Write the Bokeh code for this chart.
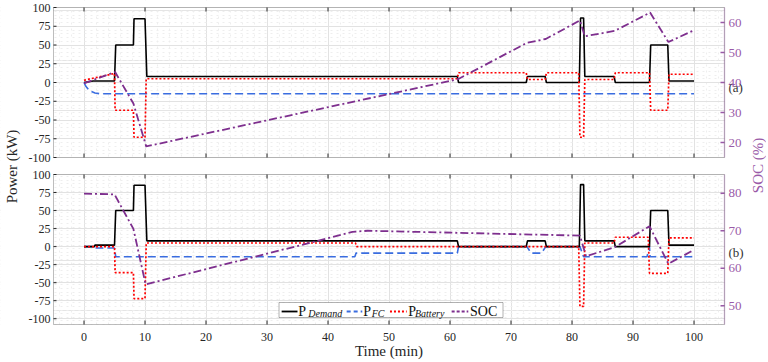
from bokeh.plotting import figure
from bokeh.models import Range1d, FixedTicker, Grid, BoxAnnotation, Label, Arrow
from bokeh.core.properties import value
from bokeh.embed import file_html
from bokeh.resources import INLINE

# ---------------- data ----------------
# panel (a)
t_dem_a = [0, 1.5, 5.0, 5.2, 8.1, 8.2, 10.0, 10.3, 61.2, 61.4, 72.5, 72.7, 75.6, 75.8,
           81.2, 81.4, 81.9, 82.1, 86.9, 87.1, 92.7, 92.9, 95.7, 95.9, 100]
p_dem_a = [0, 2, 2, 50, 50, 85, 85, 8, 8, 0, 0, 8, 8, 0,
           0, 86, 86, 8, 8, 0, 0, 50, 50, 2, 2]
t_fc_a = [0, 0.3, 0.7, 1.2, 1.8, 2.6, 100]
p_fc_a = [0, -5, -9, -12, -14, -15, -15]
t_bat_a = [0, 5.0, 5.1, 8.1, 8.2, 10.0, 10.2, 61.2, 61.4, 72.5, 72.7, 75.6, 75.8,
           81.1, 81.3, 81.9, 82.1, 86.9, 87.1, 92.7, 92.9, 95.7, 95.9, 100]
p_bat_a = [3, 12, -37, -37, -73, -73, 5, 5, 13, 13, 4, 4, 13,
           13, -73, -73, 4, 4, 13, 13, -37, -37, 11, 11]
t_soc_a = [0, 5.1, 8.1, 10.2, 61.3, 72.6, 75.7, 81.3, 82.1, 87.0, 92.8, 95.8, 100]
soc_a = [39.7, 43.5, 33.0, 18.7, 41.1, 53.2, 54.5, 60.7, 55.4, 57.2, 63.3, 53.5, 57.4]

# panel (b)
t_dem_b = [0, 1.7, 1.8, 5.0, 5.2, 8.1, 8.2, 10.0, 10.3, 61.2, 61.4, 72.5, 72.7, 75.6, 75.8,
           81.2, 81.4, 81.9, 82.1, 86.9, 87.1, 92.7, 92.9, 95.7, 95.9, 100]
p_dem_b = [0, 0, 2, 2, 50, 50, 85, 85, 8, 8, 0, 0, 8, 8, 0,
           0, 86, 86, 8, 8, 0, 0, 50, 50, 2, 2]
t_fc_b = [0, 1.8, 2.0, 5.0, 5.2, 44.4, 44.6, 61.2, 61.4, 72.6, 73.3, 75.0, 75.7,
          81.3, 81.9, 92.3, 92.7, 92.8, 100]
p_fc_b = [0, 0, -2, -2, -14, -14, -9, -9, 0, 0, -9, -9, 0,
          0, -14, -14, 0, -14, -14]
t_bat_b = [0, 5.0, 5.1, 8.1, 8.2, 10.0, 10.2, 44.5, 44.7, 81.1, 81.3, 81.9, 82.1,
           86.9, 87.1, 92.5, 92.7, 95.7, 95.9, 100]
p_bat_b = [0, 0, -36, -36, -72, -72, 5, 5, 0, 0, -83, -83, 5,
           5, 13, 13, -37, -37, 12, 12]
t_soc_b = [0, 5.0, 8.1, 10.1, 40.5, 44.0, 46.5, 81.3, 82.3, 87.0, 92.7, 95.8, 100]
soc_b = [79.9, 79.7, 70.5, 55.7, 68.2, 69.7, 70.0, 68.7, 63.2, 65.6, 71.2, 61.2, 64.9]

x_ticks = [0, 10, 20, 30, 40, 50, 60, 70, 80, 90, 100]
power_ticks = [-100, -75, -50, -25, 0, 25, 50, 75, 100]
soc_ticks_a = [20, 30, 40, 50, 60]
soc_ticks_b = [50, 60, 70, 80]
legend_labels = ["P", "P", "P", "SOC"]
legend_subs = ["Demand", "FC", "Battery", ""]

# ---------------- layout (layout units = canvas pixels) ----------------
W, H = 766, 360
PXM = 6.1                         # pixels per minute
XP = (-5, 105)                    # x limits of both panels
X0_PX = 53                        # canvas x of the panels' left edge
XR = (XP[0] - X0_PX / PXM, XP[0] + (W - X0_PX) / PXM)
PA = (H - 157, H - 7)             # panel (a): canvas rows 7..157
PB = (H - 324, H - 174)           # panel (b): canvas rows 174..324
POW_A, SOC_A = (-100, 100), (15, 65)
POW_B, SOC_B = (-108, 100), (45, 85)

FONT = "Liberation Serif"
C_DEM, C_FC, C_BAT, C_SOC = "#000000", "#3a6de0", "#ff0000", "#7e2f8e"
C_AX2 = "#9a5aa8"
C_FRAME = "#262626"
C_TXT = "#262626"


def px(d):
    """a horizontal distance in pixels, in minutes"""
    return d / PXM


def extra_range(lim, span):
    lo, hi = lim
    y0, y1 = span
    k = (y1 - y0) / (hi - lo)
    return Range1d(lo - y0 / k, hi + (H - y1) / k)


def to_layout(v, lim, span):
    lo, hi = lim
    y0, y1 = span
    return y0 + (v - lo) * (y1 - y0) / (hi - lo)


p = figure(width=W, height=H, x_range=Range1d(*XR), y_range=Range1d(0, H),
           output_backend="svg", toolbar_location=None,
           x_axis_location=None, y_axis_location=None, min_border=0,
           outline_line_color=None, background_fill_color="white")
p.extra_y_ranges = {
    "pa": extra_range(POW_A, PA), "sa": extra_range(SOC_A, PA),
    "pb": extra_range(POW_B, PB), "sb": extra_range(SOC_B, PB),
}

# ---- grids ----
x_minor = [v for v in range(-4, 105, 2) if v % 10 != 0]
p.add_layout(Grid(dimension=0, ticker=FixedTicker(ticks=x_ticks, minor_ticks=x_minor),
                  grid_line_color="#e2e2e2", grid_line_width=1,
                  minor_grid_line_color="#eeeeee", minor_grid_line_dash="dotted"))
y_major, y_minor = [], []
for lim, span in ((POW_A, PA), (POW_B, PB)):
    y_major += [to_layout(v, lim, span) for v in power_ticks]
    y_minor += [to_layout(v, lim, span) for v in range(lim[0], lim[1] + 1, 5)
                if v % 25 != 0]
p.add_layout(Grid(dimension=1, ticker=FixedTicker(ticks=y_major, minor_ticks=y_minor),
                  grid_line_color="#e2e2e2", grid_line_width=1,
                  minor_grid_line_color="#eeeeee", minor_grid_line_dash="dotted"))

# white covers outside the two panels (under the data)
for kw in (dict(right=XP[0]), dict(left=XP[1]), dict(top=PB[0]), dict(bottom=PA[1]),
           dict(bottom=PB[1], top=PA[0])):
    p.add_layout(BoxAnnotation(fill_color="white", fill_alpha=1, line_color=None,
                               level="underlay", **kw))

# ---- data lines ----
for tag, td, pd, tf, pf, tb, pb, ts, ss in (
        ("a", t_dem_a, p_dem_a, t_fc_a, p_fc_a, t_bat_a, p_bat_a, t_soc_a, soc_a),
        ("b", t_dem_b, p_dem_b, t_fc_b, p_fc_b, t_bat_b, p_bat_b, t_soc_b, soc_b)):
    pr, sr = "p" + tag, "s" + tag
    p.line(tf, pf, y_range_name=pr, line_color=C_FC, line_width=1.6, line_dash="8 4")
    p.line(td, pd, y_range_name=pr, line_color=C_DEM, line_width=1.6)
    p.line(tb, pb, y_range_name=pr, line_color=C_BAT, line_width=1.7, line_dash="2 2")
    p.line(ts, ss, y_range_name=sr, line_color=C_SOC, line_width=1.8, line_dash="8 3 2 3")

# ---- panel frames ----
for span in (PA, PB):
    p.add_layout(BoxAnnotation(left=XP[0], right=XP[1], bottom=span[0], top=span[1],
                               fill_color=None, line_color=C_FRAME, line_width=1))
    p.add_layout(BoxAnnotation(left=XP[1], right=XP[1], bottom=span[0], top=span[1],
                               fill_color=None, line_color=C_AX2, line_width=1.5))

# ---- x axis: inward ticks on every panel edge, labels under panel (b) ----
n = len(x_ticks)
for y0, d in ((PA[1], -4), (PA[0], 4), (PB[1], -4), (PB[0], 4)):
    p.segment(x0=x_ticks, y0=[y0] * n, x1=x_ticks, y1=[y0 + d] * n,
              line_color=C_FRAME, line_width=1)
p.text(x=x_ticks, y=[PB[0] - 12.5] * n, text=[str(v) for v in x_ticks],
       text_font=value(FONT), text_font_size="12px", text_color=C_TXT,
       text_align="center", text_baseline="middle")
p.text(x=[(XP[0] + XP[1]) / 2], y=[H - 350], text=["Time (min)"],
       text_font=value(FONT), text_font_size="15px", text_color=C_TXT,
       text_align="center", text_baseline="middle")

# ---- left (power) axis ----
k = len(y_major)
p.segment(x0=[XP[0]] * k, y0=y_major, x1=[XP[0] + px(3)] * k, y1=y_major,
          line_color=C_FRAME, line_width=1)
p.text(x=[XP[0] - px(3)] * k, y=y_major, text=[str(v) for v in power_ticks] * 2,
       text_font=value(FONT), text_font_size="12px", text_color=C_TXT,
       text_align="right", text_baseline="middle")
p.text(x=[XP[0] - px(42)], y=[H - 166], text=["Power (kW)"], angle=90, angle_units="deg",
       text_font=value(FONT), text_font_size="15px", text_color=C_TXT,
       text_align="center", text_baseline="middle")

# ---- right (SOC) axis ----
soc_pos = [to_layout(v, SOC_A, PA) for v in soc_ticks_a] + \
          [to_layout(v, SOC_B, PB) for v in soc_ticks_b]
m = len(soc_pos)
p.segment(x0=[XP[1] - px(4)] * m, y0=soc_pos, x1=[XP[1]] * m, y1=soc_pos,
          line_color=C_AX2, line_width=1.5)
p.text(x=[XP[1] + px(4)] * m, y=soc_pos, text=[str(v) for v in soc_ticks_a + soc_ticks_b],
       text_font=value(FONT), text_font_size="13px", text_color=C_AX2,
       text_align="left", text_baseline="middle")
p.text(x=[XP[1] + px(33)], y=[H - 165], text=["SOC (%)"], angle=90, angle_units="deg",
       text_font=value(FONT), text_font_size="15px", text_color=C_AX2,
       text_align="center", text_baseline="middle")

# ---- panel tags ----
p.text(x=[XP[1] + px(4)] * 2, y=[H - 87, H - 252], text=["(a)", "(b)"],
       text_font=value(FONT), text_font_size="13px", text_color="#333333",
       text_align="left", text_baseline="middle")

# ---- legend (drawn by hand for the subscripts) ----
LY = H - 311                      # legend centre row
p.add_layout(BoxAnnotation(left=31.97, right=68.69, bottom=LY - 6, top=LY + 9,
                           fill_color="white", fill_alpha=1, line_color="#000000", line_width=1))
samples = [(32.4, 35.0, C_DEM, "solid"), (43.06, 45.62, C_FC, "4 3"),
           (50.16, 52.9, C_BAT, "2 2"), (60.27, 63.0, C_SOC, "3 2")]
text_x = [35.13, 45.79, 53.17, 63.28]
sub_x = [36.77, 47.16, 54.26, None]
for (xa, xb, col, dash), lab, sub, tx, sx in zip(samples, legend_labels, legend_subs, text_x, sub_x):
    p.add_layout(Arrow(x_start=xa, y_start=LY, x_end=xb, y_end=LY, end=None,
                       line_color=col, line_width=1.8, line_dash=dash))
    p.add_layout(Label(x=tx, y=LY + 0.5, text=lab, text_font=FONT, text_font_size="14px",
                       text_color="#111111", text_baseline="middle", text_align="left"))
    if sub:
        p.add_layout(Label(x=sx, y=LY - 2.4, text=sub, text_font=FONT, text_font_size="10px",
                           text_font_style="italic", text_color="#111111",
                           text_baseline="middle", text_align="left"))

open("out.html", "w").write(file_html(p, INLINE))
